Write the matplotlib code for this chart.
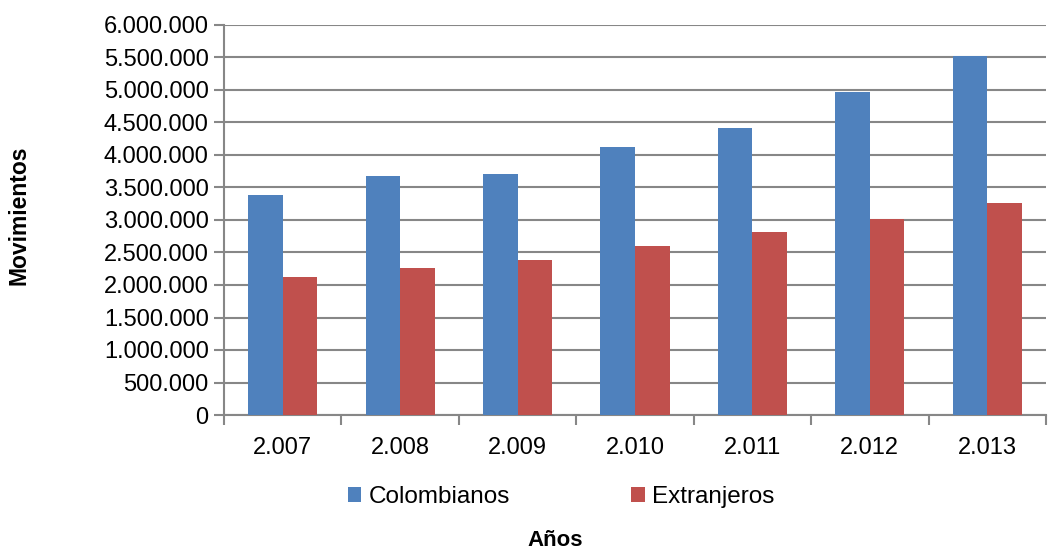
import numpy as np
import matplotlib
matplotlib.use("Agg")
import matplotlib.pyplot as plt
from matplotlib.ticker import FuncFormatter, MultipleLocator, FixedLocator

# Data
years = ["2.007", "2.008", "2.009", "2.010", "2.011", "2.012", "2.013"]
colombianos = [3380000, 3677000, 3703000, 4129000, 4415000, 4965000, 5529000]
extranjeros = [2118000, 2268000, 2380000, 2606000, 2811000, 3015000, 3268000]

BLUE = "#4F81BD"
RED = "#C0504D"
GRID = "#878787"

plt.rcParams["font.family"] = ["Liberation Sans", "DejaVu Sans"]

fig = plt.figure(figsize=(10.62, 5.53), dpi=100)
ax = fig.add_axes([224 / 1062, 1 - 415 / 553, 822 / 1062, 390 / 553])

x = np.arange(len(years))
w = 0.294
ax.bar(x - w / 2, colombianos, w, color=BLUE, label="Colombianos", zorder=3)
ax.bar(x + w / 2, extranjeros, w, color=RED, label="Extranjeros", zorder=3)

ax.set_xlim(-0.5, len(years) - 0.5)
ax.set_ylim(0, 6000000)
ax.yaxis.set_major_locator(MultipleLocator(500000))
ax.yaxis.set_major_formatter(FuncFormatter(lambda v, p: f"{int(v):,}".replace(",", ".")))
ax.grid(axis="y", color=GRID, lw=1.5, zorder=0)

# category boundary ticks, labels at centres
ax.xaxis.set_major_locator(FixedLocator(np.arange(-0.5, len(years) + 0.5, 1)))
ax.xaxis.set_major_formatter(FuncFormatter(lambda v, p: ""))
ax.xaxis.set_minor_locator(FixedLocator(x))
ax.set_xticklabels(years, minor=True)
ax.tick_params(axis="x", which="major", length=7, width=1.5, color=GRID, direction="out")
ax.tick_params(axis="x", which="minor", length=0, pad=16, labelsize=17)
ax.tick_params(axis="y", length=7, width=1.5, color=GRID, labelsize=17, pad=4)

for s in ["top", "right"]:
    ax.spines[s].set_visible(False)
for s in ["left", "bottom"]:
    ax.spines[s].set_color(GRID)
    ax.spines[s].set_linewidth(1.5)

fig.text(19 / 1062, 1 - 215 / 553, "Movimientos", rotation=90, ha="center", va="center",
         fontsize=16.5, fontweight="bold")
fig.text(555 / 1062, 1 - 541 / 553, "Años", ha="center", va="center",
         fontsize=16, fontweight="bold")

fig.legend(loc="center", bbox_to_anchor=(561 / 1062, 1 - 497 / 553), ncol=2,
           frameon=False, fontsize=17.5, handlelength=0.55, handleheight=0.55,
           handletextpad=0.3, columnspacing=5.0)

fig.savefig("out.png", dpi=100)
